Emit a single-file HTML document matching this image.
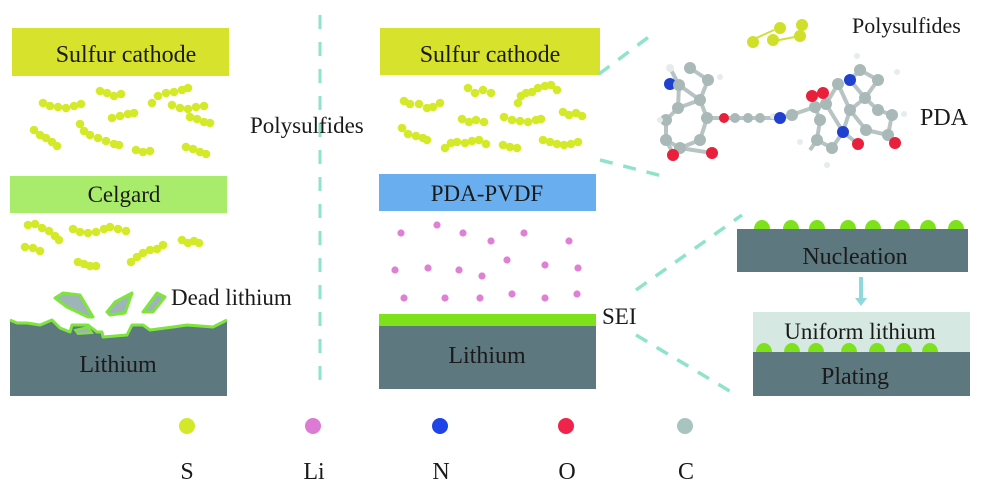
<!DOCTYPE html>
<html><head><meta charset="utf-8"><style>
html,body{margin:0;padding:0;background:#fff;width:1000px;height:500px;overflow:hidden}
svg{display:block}
text{font-family:"Liberation Serif",serif;fill:#1a1a1a}
</style></head><body>
<svg id="s" width="1000" height="500" viewBox="0 0 1000 500" xmlns="http://www.w3.org/2000/svg">
<line x1="320" y1="15" x2="320" y2="382" stroke="#8fe3cb" stroke-width="3" stroke-dasharray="14,13"/>
<rect x="12" y="28" width="217" height="48" fill="#d6e22c"/>
<text x="126" y="62" font-size="24" text-anchor="middle">Sulfur cathode</text>
<rect x="10" y="176" width="217" height="37" fill="#a9ec6c"/>
<text x="124" y="202" font-size="23" text-anchor="middle">Celgard</text>
<polygon points="10,320 17,323 27,323 40,325 52,320 60,328 70,332 72,325 88,325 97,332 102,332 103,337 127,335 132,325 143,325 150,330 173,327 187,325 213,327 227,320 227,396 10,396" fill="#5e7880"/>
<polyline points="10,320 17,323 27,323 40,325 52,320 60,328 70,332 72,325 88,325 97,332 102,332 103,337 127,335 132,325 143,325 150,330 173,327 187,325 213,327 227,320" fill="none" stroke="#7ee53a" stroke-width="3" stroke-linejoin="round"/>
<polygon points="75,330 88,327 92,333 78,334" fill="#9fb4b8" stroke="#7ee53a" stroke-width="2"/>
<polygon points="55,298 63,293 80,295 93,317 88,317 67,307" fill="#9fb4b8" stroke="#7ee53a" stroke-width="3" stroke-linejoin="round"/>
<polygon points="107,312 115,302 132,293 125,313 110,315" fill="#9fb4b8" stroke="#7ee53a" stroke-width="3" stroke-linejoin="round"/>
<polygon points="143,312 157,293 165,297 153,312" fill="#9fb4b8" stroke="#7ee53a" stroke-width="3" stroke-linejoin="round"/>
<text x="118" y="372" font-size="24" text-anchor="middle">Lithium</text>
<text x="171" y="305" font-size="23">Dead lithium</text>
<text x="250" y="133" font-size="23">Polysulfides</text>
<rect x="380" y="28" width="220" height="47" fill="#d6e22c"/>
<text x="490" y="62" font-size="24" text-anchor="middle">Sulfur cathode</text>
<rect x="379" y="174" width="217" height="37" fill="#69aff0"/>
<text x="487" y="201" font-size="23" text-anchor="middle">PDA-PVDF</text>
<rect x="379" y="314" width="217" height="12" fill="#7ee21a"/>
<rect x="379" y="326" width="217" height="63" fill="#5e7880"/>
<text x="487" y="363" font-size="24" text-anchor="middle">Lithium</text>
<text x="602" y="324" font-size="23">SEI</text>
<g id="li" fill="#e07fd6"></g>
<g stroke="#8fe3cb" stroke-width="3.5" stroke-dasharray="13,11" fill="none">
<line x1="599" y1="74" x2="650" y2="36"/>
<line x1="600" y1="160" x2="666" y2="177"/>
<line x1="636" y1="290" x2="742" y2="215"/>
<line x1="636" y1="335" x2="738" y2="396"/>
</g>
<g fill="#7ee21a" id="bumps"></g>
<rect x="737" y="229" width="231" height="43" fill="#5e7880"/>
<text x="855" y="264" font-size="24" text-anchor="middle">Nucleation</text>
<line x1="861" y1="277" x2="861" y2="300" stroke="#8fd8dc" stroke-width="4"/>
<polygon points="855,298 867,298 861,306" fill="#8fd8dc"/>
<rect x="753" y="312" width="217" height="40" fill="#d6e8e2"/>
<text x="860" y="339" font-size="23" text-anchor="middle">Uniform lithium</text>
<g id="bumps2" fill="#7ee21a"></g>
<rect x="753" y="352" width="217" height="44" fill="#5e7880"/>
<text x="855" y="384" font-size="24" text-anchor="middle">Plating</text>
<line x1="774" y1="41" x2="800" y2="36" stroke="#d0e03a" stroke-width="2"/>
<line x1="752" y1="40" x2="774" y2="30" stroke="#d0e03a" stroke-width="2"/>
<circle cx="773" cy="40" r="6" fill="#d0e02a"/><circle cx="802" cy="25" r="6" fill="#d0e02a"/>
<circle cx="780" cy="28" r="6" fill="#d0e02a"/><circle cx="800" cy="36" r="6" fill="#d0e02a"/>
<circle cx="753" cy="42" r="6" fill="#d0e02a"/>
<text x="852" y="33" font-size="22">Polysulfides</text>
<text x="920" y="125" font-size="24">PDA</text>
<g id="mol"></g>
<circle cx="187" cy="426" r="8" fill="#d4e82a"/>
<circle cx="313" cy="426" r="8" fill="#dc7ad4"/>
<circle cx="440" cy="426" r="8" fill="#1f44e8"/>
<circle cx="566" cy="426" r="8" fill="#f0244a"/>
<circle cx="685" cy="426" r="8" fill="#a7c4bf"/>
<g font-size="24" text-anchor="middle">
<text x="187" y="479">S</text><text x="314" y="479">Li</text><text x="441" y="479">N</text><text x="567" y="479">O</text><text x="686" y="479">C</text>
</g>
<g id="chains" fill="#d4ea28"></g>
</svg>
<script>
var NS="http://www.w3.org/2000/svg";
function c(g,x,y,r,f){var e=document.createElementNS(NS,"circle");e.setAttribute("cx",x);e.setAttribute("cy",y);e.setAttribute("r",r);if(f)e.setAttribute("fill",f);document.getElementById(g).appendChild(e);}
var chains=[
[[43,103],[50,106],[58,107],[66,108],[74,106],[81,104]],
[[100,91],[107,93],[114,96],[121,94]],
[[152,103],[158,96],[166,93],[174,92],[182,90],[188,88]],
[[172,105],[180,108],[188,109],[196,107],[204,106]],
[[112,118],[120,116],[128,114],[134,113]],
[[190,117],[197,119],[204,122],[210,123]],
[[34,130],[40,135],[46,138],[52,142],[57,146]],
[[80,124],[84,131],[90,135],[98,138],[106,141],[114,144],[119,145]],
[[136,150],[143,152],[150,151]],
[[186,147],[193,149],[200,152],[206,154]],
[[28,225],[35,224],[42,228],[49,231],[55,236],[59,240]],
[[73,229],[80,232],[88,233],[96,232],[104,229],[110,227],[118,229],[126,231]],
[[25,247],[33,248],[40,251]],
[[78,262],[84,264],[90,266],[96,266]],
[[131,262],[137,257],[143,253],[150,250],[157,249],[163,245]],
[[182,240],[188,243],[194,241],[199,243]],
[[404,101],[410,104],[419,104],[427,108],[433,107],[440,103]],
[[468,88],[475,93],[483,90],[491,93]],
[[518,103],[521,96],[526,93],[532,92],[538,88],[545,86],[551,85],[557,90]],
[[462,119],[469,122],[476,120],[484,122]],
[[504,117],[512,120],[520,121],[528,122],[536,120],[541,119]],
[[563,112],[569,115],[576,113],[582,116]],
[[402,128],[408,134],[416,136],[423,138],[427,140]],
[[445,148],[451,143],[457,142],[465,143],[472,141],[479,140],[486,144]],
[[503,145],[510,147],[517,148]],
[[543,140],[550,142],[557,144],[564,145],[571,144],[578,142]]
];
chains.forEach(function(ch){ch.forEach(function(p){c("chains",p[0],p[1],4.3);});});
var li=[[401,233],[437,225],[463,233],[491,241],[524,233],[569,241],[395,270],[428,268],[459,270],[482,276],[507,260],[545,265],[578,268],[404,298],[445,298],[480,298],[512,294],[545,298],[577,294]];
li.forEach(function(p){c("li",p[0],p[1],3.6);});
function ell(g,x,y){var e=document.createElementNS(NS,"ellipse");e.setAttribute("cx",x);e.setAttribute("cy",y);e.setAttribute("rx",8);e.setAttribute("ry",9);document.getElementById(g).appendChild(e);}
[762,791,817,848,873,902,928,956].forEach(function(x){ell("bumps",x,229);});
[764,792,816,849,877,904,930].forEach(function(x){ell("bumps2",x,352);});
var G="#a9b9b8",R="#e8203c",B="#2040d0",H="#e6ecec";
var bonds=[[670,68,679,85],[679,85,700,100],[700,100,708,80],[708,80,690,68],[679,85,678,108],[678,108,700,100],[678,108,666,120],[666,120,666,140],[666,140,680,148],[680,148,700,140],[700,140,707,118],[707,118,700,100],[707,118,780,118],[780,118,792,115],[792,115,800,112],[800,112,815,107],[815,107,820,120],[820,120,817,140],[817,140,832,148],[832,148,843,132],[843,132,826,104],[826,104,815,107],[826,104,838,84],[838,84,850,110],[850,110,843,132],[850,110,865,98],[865,98,878,110],[878,110,892,115],[892,115,888,135],[888,135,866,130],[866,130,850,110],[865,98,850,80],[850,80,860,70],[860,70,878,80],[878,80,865,98],[817,140,810,150],[843,132,858,144],[666,140,675,157],[680,148,712,153]];
var g=document.getElementById("mol");
bonds.forEach(function(b){var e=document.createElementNS(NS,"line");e.setAttribute("x1",b[0]);e.setAttribute("y1",b[1]);e.setAttribute("x2",b[2]);e.setAttribute("y2",b[3]);e.setAttribute("stroke","#b8c4c4");e.setAttribute("stroke-width",4);g.appendChild(e);});
var atoms=[[670,68,H,4],[690,68,G,6],[708,80,G,6],[670,84,B,6],[679,85,G,6],[700,100,G,6],[678,108,G,6],[666,120,G,6],[666,140,G,6],[680,148,G,6],[700,140,G,6],[707,118,G,6],[673,155,R,6],[712,153,R,6],[724,118,R,5],[735,118,G,5],[748,118,G,5],[760,118,G,5],[773,116,H,3],[780,118,B,6],[792,115,G,6],[815,107,G,6],[812,96,R,6],[820,120,G,6],[817,140,G,6],[832,148,G,6],[843,132,B,6],[826,104,G,6],[838,84,G,6],[823,93,R,6],[850,110,G,6],[865,98,G,6],[878,110,G,6],[892,115,G,6],[888,135,G,6],[866,130,G,6],[858,144,R,6],[895,143,R,6],[850,80,B,6],[860,70,G,6],[878,80,G,6],[857,56,H,3],[897,72,H,3],[904,114,H,3],[720,77,H,3],[660,120,H,3],[800,142,H,3],[827,165,H,3]];
atoms.forEach(function(a){c("mol",a[0],a[1],a[3],a[2]);});
</script>
</body></html>
